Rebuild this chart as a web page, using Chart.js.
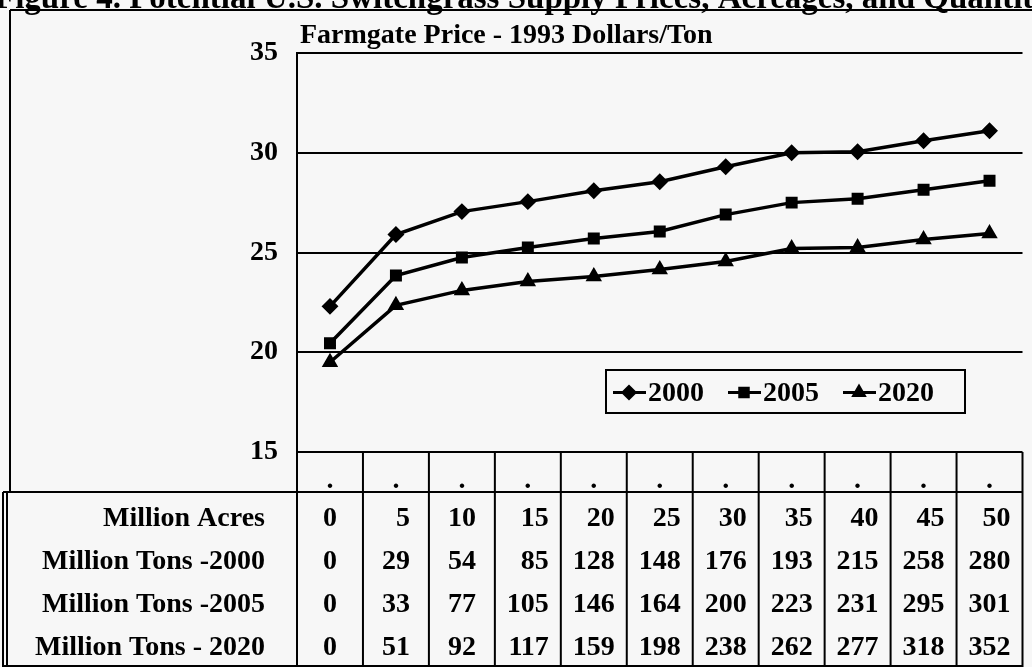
<!DOCTYPE html>
<html>
<head>
<meta charset="utf-8">
<script src="https://cdn.jsdelivr.net/npm/chart.js@4.4.1/dist/chart.umd.min.js"></script>
<style>
  html, body { margin: 0; padding: 0; background: #f7f7f7; }
  canvas { display: block; }
</style>
</head>
<body>
<canvas id="chartSupply" width="1032" height="667"></canvas>
<script>
// figure text
const figureTitle = 'Figure 4. Potential U.S. Switchgrass Supply Prices, Acreages, and Quantities';
const axisTitle = 'Farmgate Price - 1993 Dollars/Ton';

// categories (million acres) and table rows
const acres = [0, 5, 10, 15, 20, 25, 30, 35, 40, 45, 50];
const tons2000 = [0, 29, 54, 85, 128, 148, 176, 193, 215, 258, 280];
const tons2005 = [0, 33, 77, 105, 146, 164, 200, 223, 231, 295, 301];
const tons2020 = [0, 51, 92, 117, 159, 198, 238, 262, 277, 318, 352];
const rowLabels = ['Million Acres', 'Million Tons -2000', 'Million Tons -2005', 'Million Tons - 2020'];

// farmgate price series
const seriesLabels = ['2000', '2005', '2020'];
const price2000 = [22.3, 25.9, 27.05, 27.55, 28.1, 28.55, 29.3, 30.0, 30.05, 30.6, 31.1];
const price2005 = [20.45, 23.85, 24.75, 25.25, 25.7, 26.05, 26.9, 27.5, 27.7, 28.15, 28.6];
const price2020 = [19.5, 22.35, 23.1, 23.55, 23.8, 24.15, 24.55, 25.2, 25.25, 25.65, 25.95];

// y axis ticks
const yMin = 15;
const yMax = 35;
const yStep = 5;

const FONT = '"Liberation Serif", "Times New Roman", serif';
const INK = '#000';

const bgPlugin = {
    id: 'paper',
    beforeDraw(chart) {
        const ctx = chart.ctx;
        ctx.save();
        ctx.fillStyle = '#f7f7f7';
        ctx.fillRect(0, 0, chart.width, chart.height);
        ctx.restore();
    },
};

// titles, frame and the data table under the plot
const tablePlugin = {
    id: 'dataTable',
    afterDraw(chart) {
        const ctx = chart.ctx;
        const x = chart.scales.x;
        const area = chart.chartArea;
        const half = (x.getPixelForValue(1) - x.getPixelForValue(0)) / 2;
        const top = area.bottom;
        const bottom = chart.height;
        const rowLine = 492;

        ctx.save();
        ctx.fillStyle = INK;
        ctx.strokeStyle = INK;

        // clipped figure title at the very top
        ctx.font = 'bold 33px ' + FONT;
        ctx.textAlign = 'left';
        ctx.textBaseline = 'alphabetic';
        ctx.fillText(figureTitle, -5, 8);

        // value axis title
        ctx.font = 'bold 28px ' + FONT;
        ctx.fillText(axisTitle, area.left + 3, 43);

        // outer frame
        ctx.lineWidth = 2;
        ctx.beginPath();
        ctx.moveTo(10, 10); ctx.lineTo(chart.width, 10);
        ctx.moveTo(10, 10); ctx.lineTo(10, rowLine);
        ctx.moveTo(3, rowLine); ctx.lineTo(3, bottom);
        ctx.moveTo(7, rowLine); ctx.lineTo(7, bottom);
        ctx.moveTo(3, rowLine); ctx.lineTo(area.right, rowLine);
        ctx.moveTo(3, bottom - 1); ctx.lineTo(area.right, bottom - 1);
        ctx.moveTo(area.left, top); ctx.lineTo(area.left, bottom);
        acres.forEach((a, i) => {
            const edge = x.getPixelForValue(i) + half;
            ctx.moveTo(edge, top); ctx.lineTo(edge, bottom);
        });
        ctx.stroke();

        // category marks
        ctx.textAlign = 'center';
        acres.forEach((a, i) => ctx.fillText('.', x.getPixelForValue(i), 488));

        // rows
        const rows = [acres, tons2000, tons2005, tons2020];
        const rowY = [519, 562, 605, 648];
        ctx.textBaseline = 'middle';
        rows.forEach((row, r) => {
            ctx.textAlign = 'right';
            ctx.fillText(rowLabels[r], 265, rowY[r]);
        });
        acres.forEach((a, i) => {
            const widths = rows.map(row => ctx.measureText(String(row[i])).width);
            const right = x.getPixelForValue(i) + Math.max(...widths) / 2;
            rows.forEach((row, r) => ctx.fillText(String(row[i]), right, rowY[r]));
        });

        ctx.restore();
    },
};

// boxed legend sitting inside the plot
const legendPlugin = {
    id: 'boxLegend',
    afterDatasetsDraw(chart) {
        const ctx = chart.ctx;
        const box = { left: 606, top: 370, right: 965, bottom: 413 };
        const cy = (box.top + box.bottom) / 2 + 1;
        ctx.save();
        ctx.fillStyle = '#f7f7f7';
        ctx.fillRect(box.left, box.top, box.right - box.left, box.bottom - box.top);
        ctx.strokeStyle = INK;
        ctx.lineWidth = 2;
        ctx.strokeRect(box.left, box.top, box.right - box.left, box.bottom - box.top);

        ctx.font = 'bold 28px ' + FONT;
        ctx.textAlign = 'left';
        ctx.textBaseline = 'middle';
        chart.data.datasets.forEach((ds, i) => {
            const x0 = box.left + 7 + i * 115;
            ctx.strokeStyle = INK;
            ctx.lineWidth = 3;
            ctx.beginPath();
            ctx.moveTo(x0, cy); ctx.lineTo(x0 + 33, cy);
            ctx.stroke();
            ctx.fillStyle = INK;
            Chart.helpers.drawPoint(ctx, {
                pointStyle: ds.pointStyle, radius: 6, rotation: 0, borderWidth: 1,
            }, x0 + 16, cy);
            ctx.fillStyle = INK;
            ctx.fillText(ds.label, x0 + 35, cy + 1);
        });
        ctx.restore();
    },
};

function series(label, data, style) {
    return {
        label: label,
        data: data,
        borderColor: INK,
        backgroundColor: INK,
        borderWidth: 3.5,
        tension: 0,
        pointStyle: style,
        pointRadius: 6,
        pointBackgroundColor: INK,
        pointBorderColor: INK,
    };
}

new Chart(document.getElementById('chartSupply').getContext('2d'), {
    type: 'line',
    data: {
        labels: acres.map(String),
        datasets: [
            series(seriesLabels[0], price2000, 'rectRot'),
            series(seriesLabels[1], price2005, 'rect'),
            series(seriesLabels[2], price2020, 'triangle'),
        ],
    },
    options: {
        responsive: false,
        animation: false,
        devicePixelRatio: 1,
        layout: { padding: { left: 0, right: 2, top: 53, bottom: 215 } },
        plugins: { legend: { display: false }, tooltip: { enabled: false } },
        scales: {
            x: {
                type: 'category',
                offset: true,
                display: false,
            },
            y: {
                min: yMin,
                max: yMax,
                afterFit(scale) { scale.width = 297; },
                ticks: {
                    stepSize: yStep,
                    color: INK,
                    padding: 19,
                    font: { family: FONT, size: 28, weight: 'bold' },
                },
                grid: { color: INK, lineWidth: 2, drawTicks: false },
                border: { display: true, color: INK, width: 2 },
            },
        },
    },
    plugins: [bgPlugin, tablePlugin, legendPlugin],
});
</script>
</body>
</html>
